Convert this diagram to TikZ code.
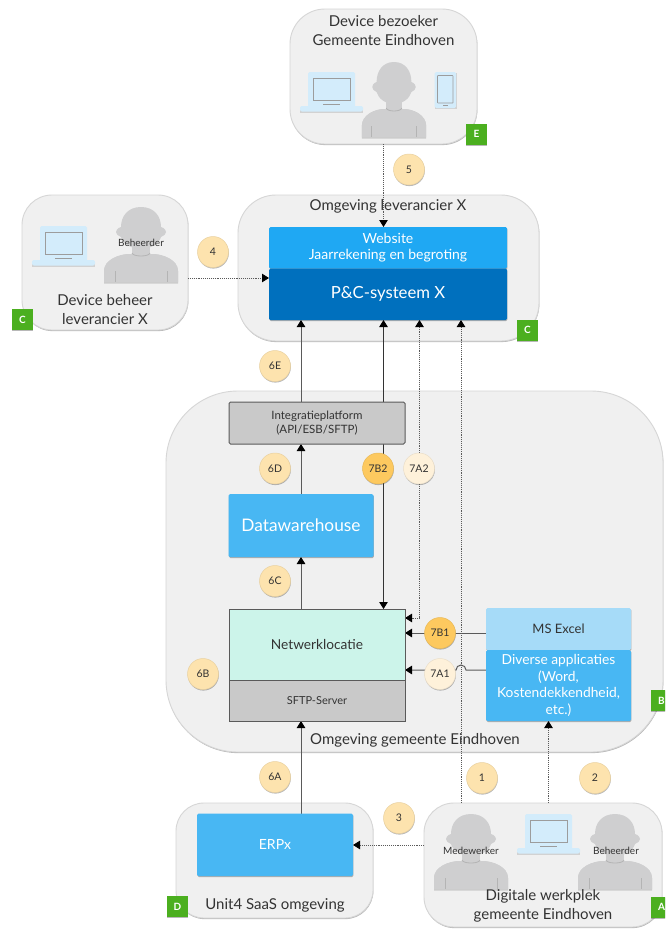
\documentclass[tikz,border=0pt]{standalone}
\usepackage{fontspec}
\setmainfont{Lato}
\usetikzlibrary{arrows.meta,shadows,calc}
\pgfdeclarelayer{backlayer}
\pgfdeclarelayer{linelayer}
\pgfsetlayers{backlayer,linelayer,main}
\definecolor{cont}{HTML}{F0F0F0}
\definecolor{contedge}{HTML}{D6D6D6}
\definecolor{txt}{HTML}{333333}
\definecolor{web}{HTML}{1FA8F3}
\definecolor{pcs}{HTML}{0070BE}
\definecolor{sky}{HTML}{48B7F3}
\definecolor{excel}{HTML}{A6DBF8}
\definecolor{mint}{HTML}{CCF4EA}
\definecolor{grayb}{HTML}{C9C9C9}
\definecolor{grn}{HTML}{4BAF1F}
\definecolor{cA}{HTML}{FDE3AE}
\definecolor{cB}{HTML}{FDC95F}
\definecolor{cC}{HTML}{FEF1DA}
\definecolor{pers}{HTML}{CFCFD0}
\definecolor{persd}{HTML}{B4B4B4}
\definecolor{lap}{HTML}{D3ECFB}
\definecolor{lapd}{HTML}{9C9C9C}
\definecolor{lnk}{HTML}{5A5A5A}
\tikzset{
  softshadow/.style={drop shadow={shadow xshift=0.4pt,shadow yshift=-1.1pt,opacity=.28,fill=black}},
  allbox/.style={rectangle,inner sep=0pt,outer sep=0pt,align=center,font=\fontsize{13}{16}\selectfont},
  container/.style={allbox,fill=cont,draw=contedge,line width=0.9pt,softshadow,text=txt},
  bluebox/.style={allbox,rounded corners=1.5pt,softshadow,text=white},
  greybox/.style={allbox,rounded corners=1.5pt,fill=grayb,draw=lnk,line width=1pt,text=txt},
  badge/.style={rectangle,fill=grn,minimum size=21pt,inner sep=0pt,text=white,softshadow,font=\fontsize{10}{12}\selectfont\bfseries},
  num/.style={circle,minimum size=31pt,inner sep=0pt,outer sep=0pt,fill=cA,draw=cA!92!black,line width=0.5pt,softshadow,text=txt,font=\fontsize{10.5}{12}\selectfont},
  contlabel/.style={text=txt,align=center,inner sep=0pt,font=\fontsize{15}{18.5}\selectfont},
  perslabel/.style={text=txt,inner sep=0pt,font=\fontsize{10}{11}\selectfont},
  solidlink/.style={draw=lnk,line width=1pt},
  dotlink/.style={draw=lnk,line width=0.9pt,densely dotted},
  tip/.style={-{Triangle[width=8.5pt,length=7pt,color=black]}},
  tiptwo/.style={{Triangle[width=8.5pt,length=7pt,color=black]}-{Triangle[width=8.5pt,length=7pt,color=black]}},
}
\newcommand{\bx}[7][]{%
  \pgfmathsetmacro{\bxw}{#5-#3}\pgfmathsetmacro{\bxh}{#6-#4}%
  \node[#1,minimum width=\bxw pt,minimum height=\bxh pt] (#2) at ({(#3+#5)/2},{(#4+#6)/2}) {#7};}
\newcommand{\personfig}[3]{% centre x, top y, half-width scale
  \begin{scope}[shift={(#1,#2)},xscale=#3]
    \fill[black,opacity=.15] (-37,76.5) -- (-37,64) .. controls (-37,53) and (-22,47) .. (-11,47) -- (11,47) .. controls (22,47) and (37,53) .. (37,64) -- (37,76.5) -- cycle;
    \fill[pers] (-37,75) -- (-37,64) .. controls (-37,53) and (-22,47) .. (-11,47) -- (11,47) .. controls (22,47) and (37,53) .. (37,64) -- (37,75) -- cycle;
    \fill[pers] (-9,30) rectangle (9,50);
    \fill[pers] (0,0) .. controls (13,0) and (20,9) .. (20,20) .. controls (24,21) and (25,24) .. (25,25) .. controls (25,27) and (23,29) .. (20,30) .. controls (18,37) and (9,42) .. (0,42) .. controls (-9,42) and (-18,37) .. (-20,30) .. controls (-23,29) and (-25,27) .. (-25,25) .. controls (-25,24) and (-24,21) .. (-20,20) .. controls (-20,9) and (-13,0) .. (0,0) -- cycle;
    \draw[persd,line width=.8pt] (-9,46) .. controls (-8,50) and (8,50) .. (9,46);
    \draw[persd,line width=.9pt] (-26,64) -- (-26,75) (26,64) -- (26,75);
  \end{scope}}
\newcommand{\laptopfig}[2]{%
  \begin{scope}[shift={(#1,#2)}]
    \fill[black,opacity=.12] (0,35.5) rectangle (63,40.5);
    \fill[lap,rounded corners=1.5pt] (8,0) rectangle (55,35);
    \fill[lap,rounded corners=2pt] (0,34) rectangle (63,39.5);
    \draw[lapd,line width=1pt] (13,6) rectangle (50,28);
    \draw[lapd,line width=1.2pt] (23,32.5) -- (40,32.5);
  \end{scope}}
\newcommand{\phonefig}[2]{%
  \begin{scope}[shift={(#1,#2)}]
    \fill[black,opacity=.12] (.5,.8) rectangle (22,37);
    \fill[lap,rounded corners=1.5pt] (0,0) rectangle (21.5,36);
    \draw[lapd,line width=.7pt,rounded corners=.5pt] (3,3.5) rectangle (18.5,31);
    \draw[lapd,line width=.9pt] (8.5,33.5) -- (13,33.5);
  \end{scope}}
\begin{document}
\begin{tikzpicture}[x=1pt,y=-1pt]
\clip (0,0) rectangle (665,929);
% containers
\begin{pgfonlayer}{backlayer}
\fill[white] (0,0) rectangle (665,929);
\bx[container,rounded corners=35pt]{boxE}{290}{9}{477}{144}{}
\bx[container,rounded corners=30pt]{boxCl}{22}{195}{188}{330}{}
\bx[container,rounded corners=38pt]{boxCr}{238}{195}{539}{341}{}
\bx[container,rounded corners=72pt]{boxB}{166}{391}{663}{752}{}
\bx[container,rounded corners=28pt]{boxD}{176}{803}{373}{918}{}
\bx[container,rounded corners=30pt]{boxA}{424}{803}{662}{927}{}
\node[contlabel] (tE) at (383.5,30.5) {Device bezoeker\\Gemeente Eindhoven};
\node[contlabel] (tCl) at (105,309.5) {Device beheer\\leverancier X};
\node[contlabel] (tCr) at (388,206) {Omgeving leverancier X};
\node[contlabel] (tB) at (415,740) {Omgeving gemeente Eindhoven};
\node[contlabel] (tD) at (275,905.5) {Unit4 SaaS omgeving};
\node[contlabel] (tA) at (543,906) {Digitale werkplek\\gemeente Eindhoven};
\end{pgfonlayer}
% icons
\laptopfig{300}{72}
\personfig{394}{62}{0.87}
\phonefig{434.5}{72}
\laptopfig{32}{226}
\personfig{141}{207}{1}
\laptopfig{517}{814}
\personfig{471}{814}{1}
\personfig{615}{814}{1}
\node[perslabel] (lb1) at (141,243) {Beheerder};
\node[perslabel] (lb2) at (471,851) {Medewerker};
\node[perslabel] (lb3) at (616,851) {Beheerder};
% boxes
\bx[bluebox,fill=web,font=\fontsize{14}{16}\selectfont]{site}{269}{227}{507}{268.5}{Website\\Jaarrekening en begroting}
\bx[bluebox,fill=pcs,font=\fontsize{16.7}{20}\selectfont]{pc}{269}{268.5}{507}{320}{P\&C-systeem X}
\bx[greybox,font=\fontsize{11.5}{14}\selectfont]{integ}{229}{402}{405}{444}{Integratieplatform\\(API/ESB/SFTP)}
\bx[bluebox,fill=sky,font=\fontsize{17.3}{22}\selectfont]{dw}{228.5}{494}{373.5}{557}{Datawarehouse}
\bx[allbox,fill=mint,draw=lnk,line width=1pt,text=txt,font=\fontsize{13.7}{16}\selectfont]{net}{229}{609}{405}{680.5}{Netwerklocatie}
\bx[allbox,fill=grayb,draw=lnk,line width=1pt,text=txt,font=\fontsize{11}{14}\selectfont]{sftp}{229}{680.5}{405}{721}{SFTP-Server}
\bx[bluebox,fill=excel,text=txt]{xl}{486}{608}{631}{650}{MS Excel}
\bx[bluebox,fill=sky,font=\fontsize{13.8}{16.6}\selectfont]{div}{486}{650}{631}{721}{Diverse applicaties\\(Word,\\Kostendekkendheid,\\etc.)}
\bx[bluebox,fill=sky,font=\fontsize{14}{16}\selectfont]{erp}{197}{813.5}{353}{876}{ERPx}
% badges
\node[badge] (bE) at (476.5,134) {E};
\node[badge] (bCl) at (22.5,319.5) {C};
\node[badge] (bCr) at (527.5,330) {C};
\node[badge] (bB) at (661.5,700.5) {B};
\node[badge] (bD) at (177.5,906.5) {D};
\node[badge] (bA) at (661.5,907) {A};
% circles
\node[num] (n5) at (409,169.5) {5};
\node[num] (n4) at (213,252) {4};
\node[num] (n6E) at (275,366) {6E};
\node[num] (n6D) at (275,468.5) {6D};
\node[num,fill=cB,draw=cB!92!black] (n7B2) at (378,468.5) {7B2};
\node[num,fill=cC,draw=cC!92!black] (n7A2) at (419,468.5) {7A2};
\node[num] (n6C) at (275,581) {6C};
\node[num] (n6B) at (203,674) {6B};
\node[num,fill=cB,draw=cB!92!black] (n7B1) at (440,633) {7B1};
\node[num,fill=cC,draw=cC!92!black] (n7A1) at (440,674) {7A1};
\node[num] (n6A) at (275,777) {6A};
\node[num] (n1) at (482,778) {1};
\node[num] (n2) at (595,778) {2};
\node[num] (n3) at (399,818) {3};
% connectors
\coordinate (c301) at (301,0);
\coordinate (c383) at (383.5,0);
\coordinate (c419) at (419.5,0);
\coordinate (c461) at (461,0);
\coordinate (c548) at (548.5,0);
\coordinate (r278) at (0,278);
\coordinate (r633) at (0,633);
\coordinate (r670) at (0,670);
\coordinate (r618) at (0,618);
\coordinate (r845) at (0,845);
\begin{pgfonlayer}{linelayer}
\draw[dotlink,tip] (boxE.south -| c383) -- (site.north -| c383);
\draw[dotlink,tip] (boxCl.east |- r278) -- (pc.west |- r278);
\draw[solidlink,tip] (integ.north -| c301) -- (pc.south -| c301);
\draw[solidlink,tip] (dw.north -| c301) -- (integ.south -| c301);
\draw[solidlink,tip] (net.north -| c301) -- (dw.south -| c301);
\draw[solidlink,tip] (erp.north -| c301) -- (sftp.south -| c301);
\draw[solidlink,tiptwo,draw=black!80] (pc.south -| c383) -- (net.north -| c383);
\draw[dotlink,tiptwo] (c419 |- pc.south) -- (c419 |- r618) -- (net.east |- r618);
\draw[dotlink,tip] (boxA.north -| c461) -- (pc.south -| c461);
\draw[dotlink,tip] (boxA.north -| c548) -- (div.south -| c548);
\draw[solidlink,tip] (xl.west |- r633) -- (net.east |- r633);
\draw[solidlink,tip] (div.west |- r670) -- (466,670) arc[start angle=0,end angle=-180,radius=5] -- (net.east |- r670);
\draw[dotlink,tip] (boxA.west |- r845) -- (erp.east |- r845);
\end{pgfonlayer}
\end{tikzpicture}
\end{document}
